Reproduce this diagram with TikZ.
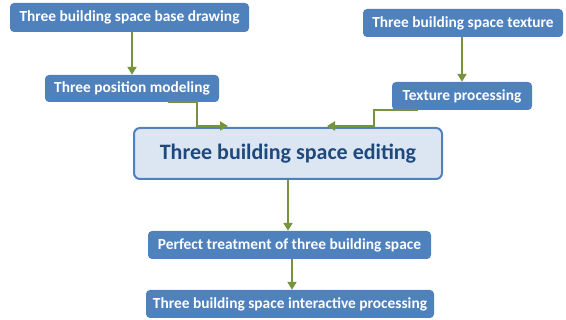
\documentclass[tikz,border=0pt]{standalone}
\usepackage{fontspec}
\setmainfont{Carlito}
\usetikzlibrary{arrows.meta}
\definecolor{boxblue}{HTML}{4F81BD}
\definecolor{mainfill}{HTML}{DCE6F2}
\definecolor{maintext}{HTML}{1F497D}
\definecolor{arrgreen}{HTML}{77933C}
\begin{document}
\begin{tikzpicture}[x=1pt,y=-1pt,
  bbox/.style={draw=none, fill=boxblue, rounded corners=4pt, text=white,
    font=\bfseries\fontsize{15.4}{18}\selectfont, minimum height=28pt, inner sep=0pt},
  mainbox/.style={draw=boxblue, line width=2pt, fill=mainfill, rounded corners=6pt,
    text=maintext, font=\bfseries\fontsize{22}{26}\selectfont, inner sep=0pt},
  conn/.style={draw=arrgreen, line width=2pt, -{Triangle[length=8pt,width=9pt]}}]
\useasboundingbox (0,0) rectangle (566,320);
\node[bbox, minimum width=239pt, minimum height=29pt] (a) at (129.5,17.5) {Three building space base drawing};
\node[bbox, minimum width=174pt, minimum height=27pt] (b) at (132,88.5) {Three position modeling};
\node[bbox, minimum width=200pt] (c) at (463,23) {Three building space texture};
\node[bbox, minimum width=140pt] (d) at (462,96) {Texture processing};
\node[mainbox, minimum width=308pt, minimum height=51pt] (m) at (288,153.5) {Three building space editing};
\node[bbox, minimum width=283pt] (f) at (289.5,245) {Perfect treatment of three building space};
\node[bbox, minimum width=288pt] (g) at (290,304) {Three building space interactive processing};
\draw[conn] (a.south -| b.north) -- (b.north);
\draw[conn] (c.south -| d.north) -- (d.north);
\draw[conn] ([xshift=36pt]b.south) -- ([xshift=65pt]b.south) |- ([xshift=-60pt,yshift=1pt]m.north);
\draw[conn] ([xshift=-44pt]d.south) -- ([xshift=-88pt]d.south) |- ([xshift=39pt,yshift=1pt]m.north);
\draw[conn] (m.south) -- (m.south |- f.north);
\draw[conn] ([xshift=2.5pt]f.south) -- ([xshift=2.5pt]f.south |- g.north);
\end{tikzpicture}
\end{document}
